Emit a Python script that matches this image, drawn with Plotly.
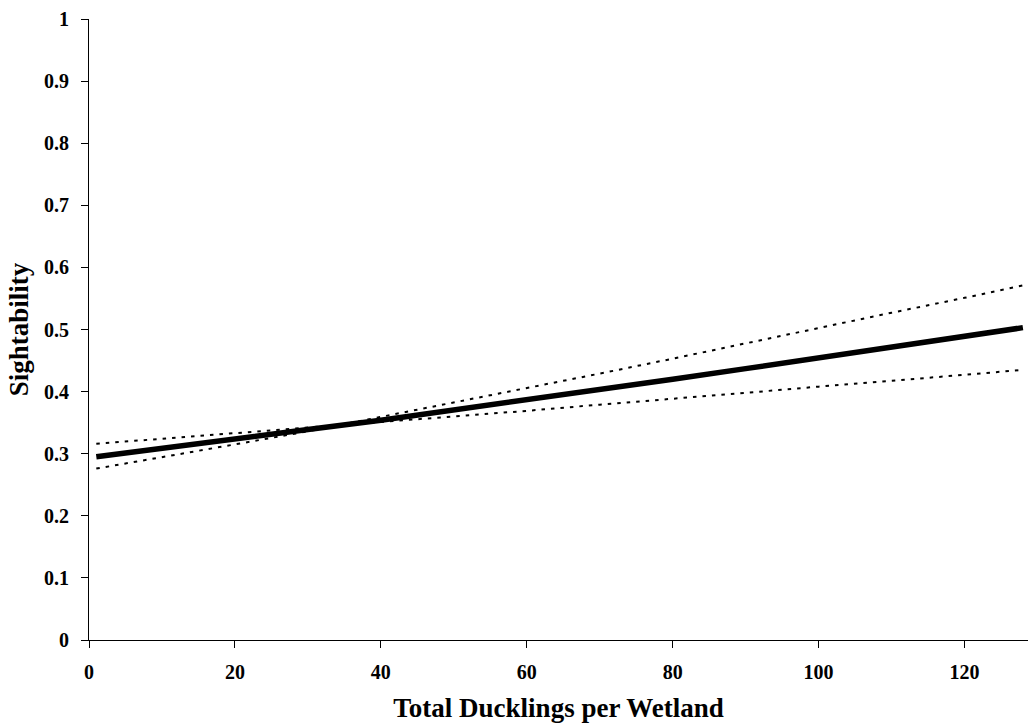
import plotly.graph_objects as go

# Total ducklings per wetland
ducklings = [1, 10, 20, 30, 40, 50, 60, 70, 80, 90, 100, 110, 120, 128]

# Predicted sightability and the two dotted bounds
sightability = [0.295, 0.308, 0.323, 0.339, 0.354, 0.370, 0.387, 0.403,
                0.420, 0.437, 0.454, 0.472, 0.489, 0.503]
bound_a = [0.316, 0.324, 0.333, 0.342, 0.351, 0.360, 0.369, 0.379,
           0.388, 0.398, 0.408, 0.417, 0.427, 0.435]
bound_b = [0.276, 0.294, 0.315, 0.336, 0.359, 0.382, 0.405, 0.429,
           0.453, 0.478, 0.502, 0.527, 0.551, 0.571]

x_ticks = [0, 20, 40, 60, 80, 100, 120]
y_ticks = [0, 0.1, 0.2, 0.3, 0.4, 0.5, 0.6, 0.7, 0.8, 0.9, 1]
y_tick_text = ["0", "0.1", "0.2", "0.3", "0.4", "0.5", "0.6", "0.7", "0.8", "0.9", "1"]

font_family = "Liberation Serif"

fig = go.Figure()
for ys in (bound_a, bound_b):
    fig.add_trace(go.Scatter(
        x=ducklings, y=ys, mode="lines",
        line=dict(color="black", width=2, dash="3.5px,6px"),
        showlegend=False, hoverinfo="skip",
    ))
fig.add_trace(go.Scatter(
    x=ducklings, y=sightability, mode="lines",
    line=dict(color="black", width=5.5),
    showlegend=False,
))

axis_common = dict(
    showgrid=False, zeroline=False, showline=True, linecolor="black", linewidth=1,
    ticks="outside", ticklen=7, tickwidth=1, tickcolor="black",
    tickfont=dict(family=font_family, size=20, color="black", weight="bold"),
)

fig.update_layout(
    width=1028, height=725,
    margin=dict(l=89, r=0, t=19, b=85),
    paper_bgcolor="white", plot_bgcolor="white",
    font=dict(family=font_family, color="black"),
    xaxis=dict(
        range=[0, 128.7], tickvals=x_ticks, ticklabelstandoff=7,
        title=dict(text="<b>Total Ducklings per Wetland</b>",
                   font=dict(family=font_family, size=27, color="black"), standoff=16),
        **axis_common,
    ),
    yaxis=dict(
        range=[0, 1], tickvals=y_ticks, ticktext=y_tick_text, ticklabelstandoff=8,
        title=dict(text="<b>Sightability</b>",
                   font=dict(family=font_family, size=27, color="black"), standoff=7),
        **axis_common,
    ),
)

fig.write_html("out.html")
